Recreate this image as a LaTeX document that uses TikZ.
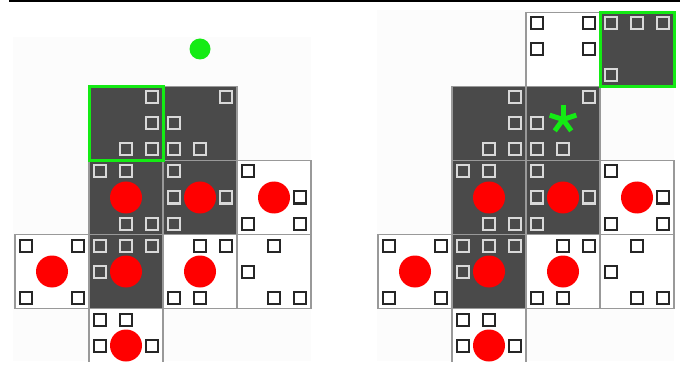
\documentclass[tikz,border=0pt]{standalone}
\usepackage{tikz}

\definecolor{boardgray}{HTML}{4A4A4A}
\definecolor{markgreen}{HTML}{14EB14}

\begin{document}
\begin{tikzpicture}[x=1pt,y=-1pt,
    dark cell/.style={draw=black!40, line width=1.6pt, fill=boardgray},
    light cell/.style={draw=black!40, line width=1.6pt, fill=white},
    dark box/.style={draw=black!15, line width=2pt, fill=boardgray},
    light box/.style={draw=black!85, line width=2pt, fill=white},
    token/.style={fill=red},
    goal/.style={draw=markgreen, line width=3pt}]
    \useasboundingbox (0,0) rectangle (692,371);

    % rule along the top
    \draw[line width=2pt] (9,1) -- (680,1);

    \begin{scope}
    \clip (0,4) rectangle (692,361);
    % faint backdrop
    \fill[black!1] (13,37) rectangle (311,361);
    \fill[black!1] (377,10) rectangle (674,361);

    % the two boards share the same lower part
    \foreach \dx in {15,378} {
    \begin{scope}[shift={(\dx,86.5)}]
        \foreach \c/\r/\k/\sq in {
            1/0/dark/{2/0,2/1,1/2,2/2},
            2/0/dark/{2/0,0/1,0/2,1/2},
            1/1/dark/{0/0,1/0,1/2,2/2},
            2/1/dark/{0/0,0/1,2/1,0/2},
            3/1/light/{0/0,2/1,0/2,2/2},
            0/2/light/{0/0,2/0,0/2,2/2},
            1/2/dark/{0/0,1/0,2/0,0/1},
            2/2/light/{1/0,2/0,0/2,1/2},
            3/2/light/{1/0,0/1,1/2,2/2},
            1/3/light/{0/0,1/0,0/1,2/1}} {
            \draw[\k\space cell] (74*\c,74*\r) rectangle ++(74,74);
            \foreach \i/\j in \sq
                \draw[\k\space box] (74*\c+5+26*\i,74*\r+5+26*\j) rectangle ++(12,12);
        }
        % red tokens
        \foreach \c/\r in {1/1,2/1,3/1,0/2,1/2,2/2,1/3}
            \fill[token] (74*\c+37,74*\r+37) circle (16);
    \end{scope}
    }

    % left board: marked cell and green dot
    \begin{scope}[shift={(15,86.5)}]
        \draw[goal] (74,0) rectangle ++(74,74);
    \end{scope}
    \fill[markgreen] (200,49) circle (10.5);

    % right board: extra top row and star
    \begin{scope}[shift={(378,86.5)}]
        \foreach \c/\r/\k/\sq in {
            2/-1/light/{0/0,2/0,0/1,2/1},
            3/-1/dark/{0/0,1/0,2/0,0/2}} {
            \draw[\k\space cell] (74*\c,74*\r) rectangle ++(74,74);
            \foreach \i/\j in \sq
                \draw[\k\space box] (74*\c+5+26*\i,74*\r+5+26*\j) rectangle ++(12,12);
        }
        \draw[goal] (222,-74) rectangle ++(74,74);
        \coordinate (star) at (185,33);
        \foreach \a in {90,18,162,-54,-126}
            \draw[markgreen, line width=5pt] (star) -- ++(\a:-14);
    \end{scope}
    \end{scope}
\end{tikzpicture}
\end{document}
